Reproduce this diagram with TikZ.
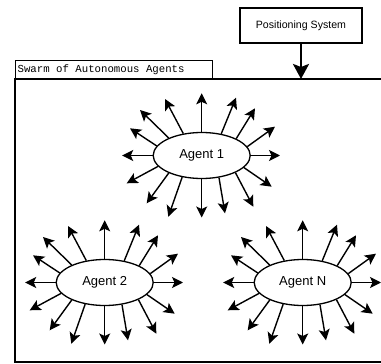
\documentclass[tikz,border=0pt]{standalone}
\usepackage{fontspec}
\setmainfont{Liberation Sans}
\newfontfamily\monof{Liberation Mono}
\usetikzlibrary{shapes.geometric,arrows.meta,calc}
\begin{document}
\begin{tikzpicture}[x=1pt,y=-1pt,
  agent/.style={ellipse,draw,line width=1.3pt,minimum width=97pt,minimum height=46pt,inner sep=0pt,font=\fontsize{13}{15}\selectfont},
  ray/.style={line width=1.4pt,-{Stealth[length=11pt,width=11pt,inset=2.5pt]}},
  box/.style={draw,line width=1.3pt},
  bigarrow/.style={line width=2.6pt,-{Stealth[length=15pt,width=16pt,inset=3pt]}}]
\useasboundingbox (0,0) rectangle (381,364);
\clip (0,0) rectangle (381,364);
% frame
\draw[box] (15,79) rectangle (395,362);
\node[box,anchor=north west,text width=193pt,inner xsep=2pt,inner ysep=0pt,minimum height=19pt,align=left,font=\monof\fontsize{10.7}{12}\selectfont] (lbl) at (15,60) {Swarm\hspace{0.6em}of\hspace{0.6em}Autonomous\hspace{0.6em}Agents};
% positioning system
\node[box,minimum width=122pt,minimum height=35pt,font=\fontsize{10.6}{12}\selectfont] (ps) at (301,25.5) {Positioning System};
\coordinate (pt) at (301,79);
\draw[bigarrow] (ps) -- (pt);
% agents
\node[agent] (ag1) at (201.7,155.5) {Agent 1};
\node[agent] (ag2) at (104.7,282.5) {Agent 2};
\node[agent] (agN) at (302.7,282.5) {Agent N};
\foreach \a in {ag1,ag2,agN}{
  \foreach \t/\x/\y in {180/-79.5/0, 168.9/-71.7/-27.2, 152.8/-61.7/-45.5, 130.6/-36.7/-56.5, 90/0/-62.2, 48/34.3/-57.8, 26.2/53.3/-47.2, 11.9/73.3/-28.8, 0/78.3/0, 344.6/70/31.2, 333/51.6/51.2, 308.7/23.3/57.8, 270/0/62, 228.7/-33.4/61.2, 208/-55/47.8, 194.5/-75/27.8}
    \draw[ray] (\a.\t) -- ($(\a)+(\x,\y)$);
}
\end{tikzpicture}
\end{document}
